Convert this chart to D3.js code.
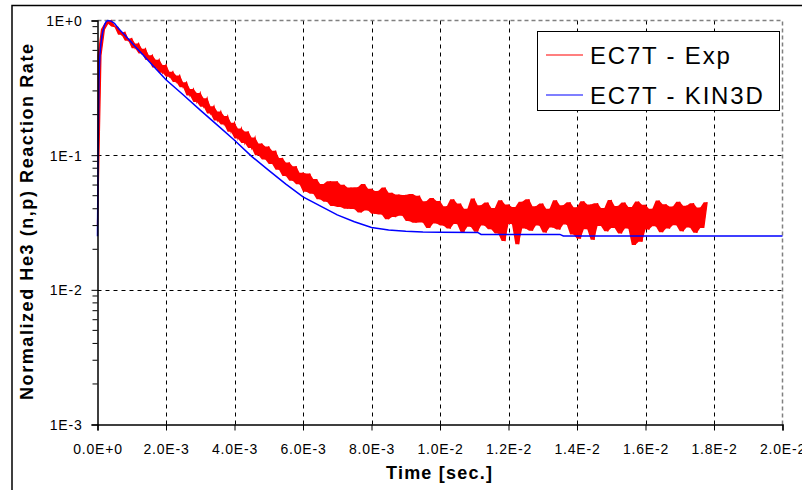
<!DOCTYPE html>
<html><head><meta charset="utf-8">
<script src="https://cdn.jsdelivr.net/npm/d3@7"></script>
<style>body{margin:0;background:#fff}svg{display:block}text{font-family:"Liberation Sans",Arial,sans-serif}</style>
</head><body><svg id="c" width="802" height="490"></svg>
<script>
// ---- data ----
const xTickValues = [0, 2e-3, 4e-3, 6e-3, 8e-3, 1e-2, 1.2e-2, 1.4e-2, 1.6e-2, 1.8e-2, 2e-2];
const xTickLabels = ["0.0E+0","2.0E-3","4.0E-3","6.0E-3","8.0E-3","1.0E-2","1.2E-2","1.4E-2","1.6E-2","1.8E-2","2.0E-2"];
const yTickValues = [1, 1e-1, 1e-2, 1e-3];
const yTickLabels = ["1E+0","1E-1","1E-2","1E-3"];
const seriesNames = ["EC7T - Exp", "EC7T - KIN3D"];
const seriesColors = ["#ff0000", "#0000ff"];

// Experimental record, sampled every 0.1 ms from 0 to 17.8 ms (noisy)
const expStep = 1e-4;
const expValues = [0.03, 0.55, 0.86, 0.95, 1.0, 0.902, 0.891, 0.785, 0.818, 0.706,
 0.736, 0.622, 0.676, 0.569, 0.617, 0.508, 0.553, 0.448, 0.512, 0.409,
 0.468, 0.382, 0.417, 0.349, 0.390, 0.319, 0.348, 0.277, 0.310, 0.248,
 0.290, 0.229, 0.265, 0.204, 0.231, 0.181, 0.211, 0.169, 0.195, 0.149,
 0.174, 0.133, 0.158, 0.123, 0.150, 0.113, 0.135, 0.100, 0.122, 0.093,
 0.116, 0.0861, 0.108, 0.078, 0.0953, 0.0699, 0.0883, 0.0647, 0.0828, 0.0608,
 0.0741, 0.0536, 0.0730, 0.0516, 0.0664, 0.0470, 0.0610, 0.0450, 0.0641, 0.0420,
 0.0640, 0.0412, 0.0603, 0.0400, 0.0575, 0.0398, 0.0577, 0.0375, 0.0610, 0.0388,
 0.0562, 0.0367, 0.0543, 0.0363, 0.0575, 0.0335, 0.0525, 0.0347, 0.0510, 0.0355,
 0.0507, 0.0324, 0.0515, 0.0315, 0.0500, 0.0316, 0.0455, 0.0288, 0.0480, 0.0311,
 0.0457, 0.0300, 0.0418, 0.0285, 0.0470, 0.0308, 0.0437, 0.0269, 0.0400, 0.0294,
 0.0477, 0.0270, 0.0425, 0.0300, 0.0445, 0.0282, 0.0405, 0.0262, 0.0462, 0.0230,
 0.0430, 0.0308, 0.0412, 0.0218, 0.0450, 0.0285, 0.0470, 0.0275, 0.0418, 0.0300,
 0.0437, 0.0266, 0.0400, 0.0290, 0.0462, 0.0280, 0.0425, 0.0305, 0.0447, 0.0258,
 0.0410, 0.0240, 0.0455, 0.0282, 0.0430, 0.0235, 0.0440, 0.0298, 0.0405, 0.0272,
 0.0465, 0.0288, 0.0420, 0.0262, 0.0445, 0.0285, 0.0412, 0.0215, 0.0452, 0.0228,
 0.0428, 0.0280, 0.0400, 0.0296, 0.0460, 0.0268, 0.0432, 0.0285, 0.0415, 0.0302,
 0.0450, 0.0272, 0.0422, 0.0290, 0.0440, 0.0265, 0.0408, 0.0288, 0.0448];

// KIN3D simulation
const simTime = [0, 0.02e-3, 0.04e-3, 0.07e-3, 0.1e-3, 0.15e-3, 0.2e-3, 0.25e-3, 0.3e-3, 0.4e-3,
 0.5e-3, 0.6e-3, 0.8e-3, 1.0e-3, 1.25e-3, 1.5e-3, 1.75e-3, 2.0e-3, 2.5e-3, 3.0e-3,
 3.5e-3, 4.0e-3, 4.5e-3, 5.0e-3, 5.5e-3, 6.0e-3, 6.5e-3, 7.0e-3, 7.5e-3, 8.0e-3,
 8.5e-3, 9.0e-3, 9.5e-3, 10.0e-3, 11.1e-3, 11.2e-3, 13.5e-3, 13.6e-3, 20.0e-3];
const simValues = [0.025, 0.12, 0.35, 0.55, 0.68, 0.82, 0.92, 0.98, 1.0, 0.99,
 0.95, 0.88, 0.776, 0.684, 0.583, 0.498, 0.425, 0.363, 0.281, 0.216,
 0.167, 0.129, 0.098, 0.077, 0.061, 0.049, 0.042, 0.036, 0.032, 0.029,
 0.0278, 0.0272, 0.0269, 0.0268, 0.0267, 0.0258, 0.0258, 0.0251, 0.0251];

// ---- drawing ----
const svg = d3.select("#c");
const L = 97.5, R = 782.5, T = 20.5, B = 424.5;
const x = d3.scaleLinear().domain([0, 0.02]).range([L, R]);
const y = d3.scaleLog().domain([1e-3, 1]).range([B, T]);

svg.append("rect").attr("width", 802).attr("height", 490).attr("fill", "#fff");
// outer chart frame
svg.append("path").attr("d", "M12,490V5.5H802").attr("fill", "none").attr("stroke", "#000").attr("stroke-width", 1.5);

const font = '"Liberation Sans", Arial, sans-serif';

// grid
const g = svg.append("g");
g.selectAll("line.vx").data(xTickValues.slice(1, -1)).join("line")
  .attr("x1", d => Math.round(x(d)) + 0.5).attr("x2", d => Math.round(x(d)) + 0.5)
  .attr("y1", T).attr("y2", B).attr("stroke", "#000").attr("stroke-dasharray", "4,4");
g.selectAll("line.hy").data(yTickValues.slice(1, -1)).join("line")
  .attr("y1", d => Math.round(y(d)) + 0.5).attr("y2", d => Math.round(y(d)) + 0.5)
  .attr("x1", L).attr("x2", R).attr("stroke", "#000").attr("stroke-dasharray", "4,4");
// plot area border (top and right) gray dashed
svg.append("path").attr("d", `M${L},${T}H${R}V${B}`).attr("fill", "none")
  .attr("stroke", "#808080").attr("stroke-width", 1.5).attr("stroke-dasharray", "4,3");

// experimental series: noisy trace (band spanned by successive samples + trace)
const expData = expValues.map((v, i) => {
  const n = expValues[Math.min(i + 1, expValues.length - 1)];
  return [i * expStep, v, Math.min(v, n), Math.max(v, n)];
});
svg.append("path").datum(expData)
  .attr("d", d3.area().x(d => x(d[0])).y0(d => y(d[2])).y1(d => y(d[3])))
  .attr("fill", seriesColors[0]).attr("stroke", "none");
svg.append("path").datum(expData)
  .attr("d", d3.line().x(d => x(d[0])).y(d => y(d[1])))
  .attr("fill", "none").attr("stroke", seriesColors[0]).attr("stroke-width", 1.3);

// simulation series
const simData = simTime.map((t, i) => [t, simValues[i]]);
svg.append("path").datum(simData)
  .attr("d", d3.line().x(d => x(d[0])).y(d => y(d[1])))
  .attr("fill", "none").attr("stroke", seriesColors[1]).attr("stroke-width", 1.5);

// y axis
const yAxis = d3.axisLeft(y).tickValues(yTickValues).tickSize(6).tickFormat((d, i) => yTickLabels[i]);
const ya = svg.append("g").attr("transform", `translate(${L},0)`).call(yAxis);
ya.select(".domain").attr("stroke", "#000").attr("stroke-width", 1.5);
ya.selectAll(".tick text").attr("font-size", 14).attr("font-family", font).attr("fill", "#000")
  .attr("letter-spacing", "0.8px").attr("x", -15).attr("dy", "0.36em");
// minor ticks
const minor = [];
[1e-3, 1e-2, 1e-1].forEach(dec => { for (let k = 2; k <= 9; k++) minor.push(dec * k); });
ya.selectAll("line.minor").data(minor).join("line").attr("class", "minor")
  .attr("x1", -5).attr("x2", 0).attr("y1", d => y(d)).attr("y2", d => y(d)).attr("stroke", "#000");

// x axis
const xAxis = d3.axisBottom(x).tickValues(xTickValues).tickSize(6).tickFormat((d, i) => xTickLabels[i]);
const xa = svg.append("g").attr("transform", `translate(0,${B})`).call(xAxis);
xa.select(".domain").attr("stroke", "#000").attr("stroke-width", 1.5);
xa.selectAll(".tick text").attr("font-size", 14).attr("font-family", font).attr("fill", "#000")
  .attr("letter-spacing", "0.8px").attr("y", 20).attr("dy", "0.71em");

// axis titles
svg.append("text").attr("x", 439).attr("y", 479).attr("text-anchor", "middle")
  .attr("font-size", 18).attr("font-weight", "bold").attr("font-family", font)
  .attr("textLength", 106).attr("lengthAdjust", "spacing").text("Time [sec.]");
svg.append("text").attr("transform", "translate(33,222) rotate(-90)").attr("text-anchor", "middle")
  .attr("font-size", 18).attr("font-weight", "bold").attr("font-family", font)
  .attr("textLength", 356).attr("lengthAdjust", "spacing").text("Normalized He3 (n,p) Reaction Rate");

// legend
const lg = svg.append("g");
lg.append("rect").attr("x", 537.5).attr("y", 31.5).attr("width", 242).attr("height", 79)
  .attr("fill", "#fff").attr("stroke", "#000").attr("stroke-width", 1);
seriesNames.forEach((name, i) => {
  const cy = 55 + i * 40;
  lg.append("line").attr("x1", 546).attr("x2", 583).attr("y1", cy).attr("y2", cy)
    .attr("stroke", seriesColors[i]).attr("stroke-width", 1.2);
  lg.append("text").attr("x", 590).attr("y", cy + 8.5).attr("font-size", 24).attr("font-family", font)
    .attr("letter-spacing", "1.8px").text(name);
});
</script></body></html>
